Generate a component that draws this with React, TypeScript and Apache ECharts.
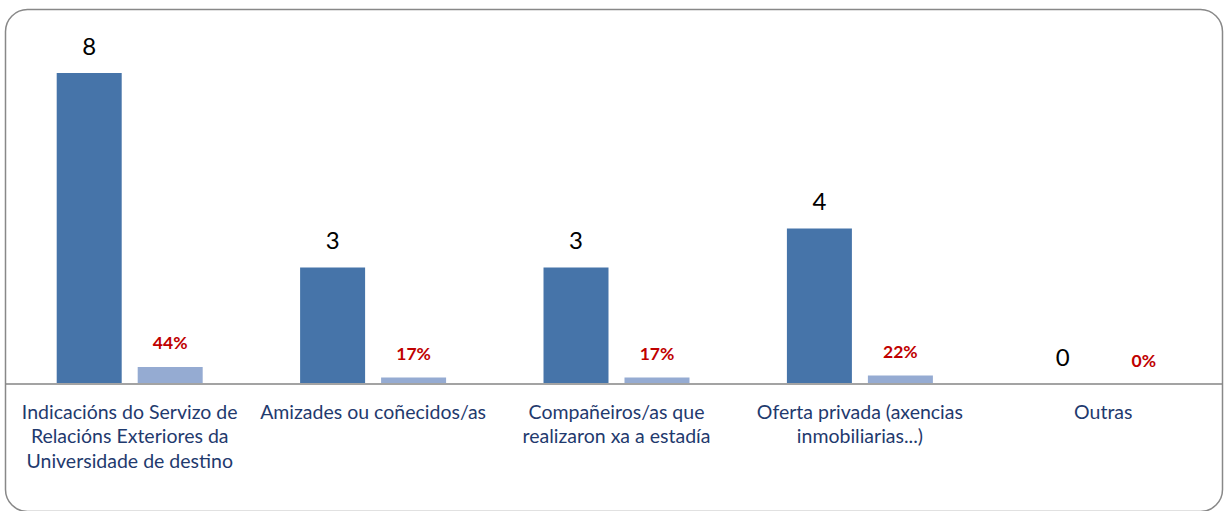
import React, { useEffect, useRef } from "react";
import * as echarts from "echarts";

const categories = [
  "Indicacións do Servizo de\nRelacións Exteriores da\nUniversidade de destino",
  "Amizades ou coñecidos/as",
  "Compañeiros/as que\nrealizaron xa a estadía",
  "Oferta privada (axencias\ninmobiliarias...)",
  "Outras",
];
const counts = [8, 3, 3, 4, 0];
const shares = [0.44, 0.17, 0.17, 0.22, 0];

const FONT = "Lato, 'Open Sans', sans-serif";
const W = 1225;
const H = 511;
const GRID_BOTTOM = 127;

export default function App() {
  const ref = useRef<HTMLDivElement>(null);
  useEffect(() => {
    if (!ref.current) return;
    const chart = echarts.init(ref.current, null, { renderer: "svg" });
    chart.setOption({
      animation: false,
      grid: { left: 8, right: 0, top: 73, bottom: GRID_BOTTOM, containLabel: false },
      xAxis: {
        type: "category",
        data: categories,
        axisLine: { show: false },
        axisTick: { show: false },
        axisLabel: {
          interval: 0,
          color: "#1F3A6E",
          fontFamily: FONT,
          fontSize: 19.5,
          lineHeight: 24.5,
          margin: 15,
        },
      },
      yAxis: {
        type: "value",
        min: 0,
        max: 8,
        show: false,
        splitLine: { show: false },
      },
      series: [
        {
          type: "bar",
          data: counts,
          barWidth: 65,
          barGap: "24.6%",
          itemStyle: { color: "#4674A9" },
          label: {
            show: true,
            position: "top",
            distance: 16,
            color: "#000000",
            fontFamily: FONT,
            fontSize: 24,
          },
        },
        {
          type: "bar",
          data: shares,
          barWidth: 65,
          itemStyle: { color: "#95ABD2" },
          label: {
            show: true,
            position: "top",
            distance: 15,
            color: "#C00000",
            fontWeight: "bold",
            fontFamily: FONT,
            fontSize: 17.5,
            formatter: (p: any) => Math.round(p.value * 100) + "%",
          },
        },
      ],
      graphic: [
        {
          type: "line",
          shape: { x1: 6, y1: H - GRID_BOTTOM, x2: 1222, y2: H - GRID_BOTTOM },
          style: { stroke: "#A3A3A3", lineWidth: 2 },
          silent: true,
          z: 50,
        },
        {
          type: "rect",
          shape: { x: 5.5, y: 9.5, width: 1217, height: 502, r: 22 },
          style: { fill: "none", stroke: "#888888", lineWidth: 1.5 },
          silent: true,
          z: 100,
        },
      ],
    });
    return () => chart.dispose();
  }, []);
  return (
    <div
      ref={ref}
      style={{ position: "absolute", left: 0, top: 0, width: W, height: H, background: "#fff" }}
    />
  );
}
